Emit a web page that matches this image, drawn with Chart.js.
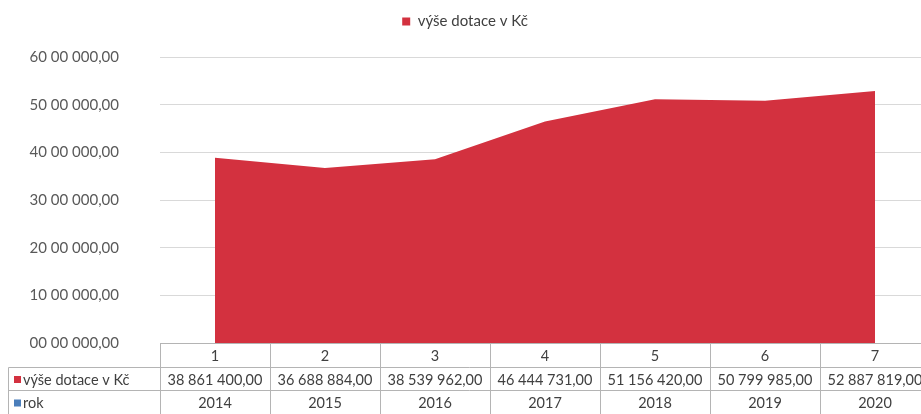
<!DOCTYPE html>
<html><head><meta charset="utf-8">
<script src="https://cdn.jsdelivr.net/npm/chart.js@4/dist/chart.umd.min.js"></script>
<style>
html,body{margin:0;padding:0;overflow:hidden;background:#fff;width:921px;height:414px}
#wrap{width:930px;height:414px;position:relative}
</style></head><body>
<div id="wrap"><canvas id="c"></canvas></div>
<script>
const categories = ['1','2','3','4','5','6','7'];
const dotace = [38861400, 36688884, 38539962, 46444731, 51156420, 50799985, 52887819];
const rok = [2014, 2015, 2016, 2017, 2018, 2019, 2020];
const dotaceLabels = ['38 861 400,00','36 688 884,00','38 539 962,00','46 444 731,00','51 156 420,00','50 799 985,00','52 887 819,00'];
const rokLabels = ['2014','2015','2016','2017','2018','2019','2020'];
const yTickLabels = ['00 00 000,00','10 00 000,00','20 00 000,00','30 00 000,00','40 00 000,00','50 00 000,00','60 00 000,00'];
const seriesNames = ['výše dotace v Kč','rok'];
const seriesColors = ['#D3313F','#4A7EBB'];

const FONT = 'Lato, "Open Sans", sans-serif';
const TEXT = '#404040';
const BORDER = '#B4B4B4';

const legendHeightPlugin = {
  id: 'legendHeight',
  afterInit(chart) {
    const lg = chart.legend;
    if (!lg) return;
    const orig = lg.fit;
    lg.fit = function () { orig.call(this); this.height = 57; };
  }
};

const tablePlugin = {
  id: 'dataTable',
  afterDraw(chart) {
    const ctx = chart.ctx, ca = chart.chartArea;
    const n = categories.length;
    const colW = (ca.right - ca.left) / n;
    const y0 = Math.round(ca.bottom) + 0.5;
    const rows = [y0, y0 + 24, y0 + 47, y0 + 71];
    const leftX = 8.5;
    ctx.save();
    ctx.strokeStyle = BORDER;
    ctx.lineWidth = 1;
    ctx.beginPath();
    ctx.moveTo(ca.left, rows[0]); ctx.lineTo(ca.right, rows[0]);
    ctx.moveTo(leftX, rows[1]); ctx.lineTo(ca.right, rows[1]);
    ctx.moveTo(leftX, rows[2]); ctx.lineTo(ca.right, rows[2]);
    ctx.moveTo(leftX, rows[3]); ctx.lineTo(ca.right, rows[3]);
    ctx.moveTo(leftX, rows[1]); ctx.lineTo(leftX, rows[3]);
    for (let i = 0; i <= n; i++) {
      const xx = Math.round(ca.left + i * colW) + 0.5;
      ctx.moveTo(xx, rows[0]); ctx.lineTo(xx, rows[3]);
    }
    ctx.stroke();
    ctx.fillStyle = TEXT;
    ctx.font = '14.5px ' + FONT;
    ctx.textAlign = 'center';
    ctx.textBaseline = 'middle';
    const xs = chart.scales.x;
    for (let i = 0; i < n; i++) {
      const cx = xs.getPixelForValue(i);
      ctx.fillText(categories[i], cx, (rows[0] + rows[1]) / 2 + 1);
      ctx.fillText(dotaceLabels[i], cx, (rows[1] + rows[2]) / 2 + 1);
      ctx.fillText(rokLabels[i], cx, (rows[2] + rows[3]) / 2 + 1);
    }
    ctx.textAlign = 'left';
    const heads = [[seriesNames[0], seriesColors[0], rows[1], rows[2]], [seriesNames[1], seriesColors[1], rows[2], rows[3]]];
    heads.forEach(([t, c, a, b]) => {
      const cy = (a + b) / 2;
      ctx.fillStyle = c;
      ctx.fillRect(14, cy - 3, 7, 7);
      ctx.fillStyle = TEXT;
      ctx.fillText(t, 23, cy + 1);
    });
    ctx.restore();
  }
};

new Chart(document.getElementById('c'), {
  type: 'line',
  data: {
    labels: categories,
    datasets: [
      { label: seriesNames[0], data: dotace, backgroundColor: seriesColors[0], borderColor: seriesColors[0], borderWidth: 0, fill: 'origin', pointRadius: 0, tension: 0 },
      { label: seriesNames[1], data: rok, backgroundColor: seriesColors[1], borderColor: seriesColors[1], borderWidth: 0, fill: 'origin', pointRadius: 0, tension: 0 }
    ]
  },
  options: {
    responsive: true,
    maintainAspectRatio: false,
    animation: false,
    layout: { padding: { left: 0, right: 0, top: 0, bottom: 0 } },
    plugins: {
      legend: {
        display: true,
        position: 'top',
        labels: {
          boxWidth: 8, boxHeight: 8, padding: 14,
          color: TEXT, font: { family: FONT, size: 15 },
          filter: (item) => item.datasetIndex === 0
        }
      },
      tooltip: { enabled: false }
    },
    scales: {
      x: {
        type: 'category',
        offset: true,
        grid: { display: false },
        border: { display: false },
        ticks: { display: false },
        afterFit: (s) => { s.height = 71; }
      },
      y: {
        min: 0, max: 60000000,
        ticks: {
          stepSize: 10000000,
          padding: 41,
          color: '#595959',
          font: { family: FONT, size: 15 },
          callback: (v) => yTickLabels[Math.round(v / 10000000)]
        },
        grid: { color: '#D9D9D9', drawTicks: false },
        border: { display: false },
        afterFit: (s) => { s.width = 160; }
      }
    }
  },
  plugins: [legendHeightPlugin, tablePlugin]
});
</script>
</body></html>
